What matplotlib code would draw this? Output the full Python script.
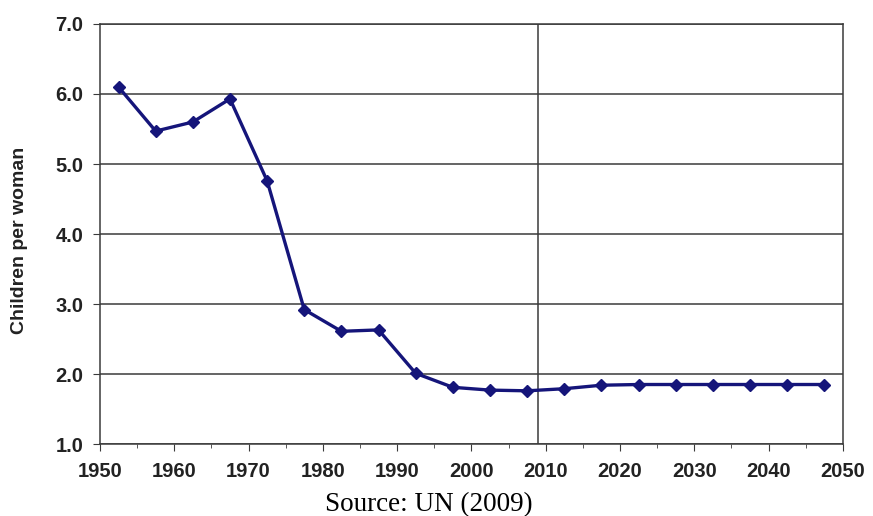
import matplotlib
matplotlib.use("Agg")
import matplotlib.pyplot as plt
from matplotlib.ticker import MultipleLocator

# data
years = [1952.5, 1957.5, 1962.5, 1967.5, 1972.5, 1977.5, 1982.5, 1987.5, 1992.5,
         1997.5, 2002.5, 2007.5, 2012.5, 2017.5, 2022.5, 2027.5, 2032.5, 2037.5,
         2042.5, 2047.5]
fertility = [6.10, 5.47, 5.60, 5.93, 4.76, 2.92, 2.61, 2.63, 2.01,
             1.81, 1.77, 1.76, 1.79, 1.84, 1.85, 1.85, 1.85, 1.85,
             1.85, 1.85]
x_ticks = [1950, 1960, 1970, 1980, 1990, 2000, 2010, 2020, 2030, 2040, 2050]
y_ticks = [1.0, 2.0, 3.0, 4.0, 5.0, 6.0, 7.0]
divider_year = 2009

line_col = '#15157a'
grid_col = '#3a3a3a'

fig = plt.figure(figsize=(8.73, 5.16), dpi=100)
ax = fig.add_axes([0.1145, 0.1395, 0.851, 0.814])

ax.plot(years, fertility, color=line_col, lw=2.4, marker='D', ms=6.5, zorder=3)
ax.axvline(divider_year, color=grid_col, lw=1.1, zorder=2)

ax.set_xlim(1950, 2050)
ax.set_ylim(1.0, 7.0)
ax.set_xticks(x_ticks)
ax.set_yticks(y_ticks)
ax.xaxis.set_minor_locator(MultipleLocator(5))
ax.set_yticklabels(['%.1f' % v for v in y_ticks])
ax.yaxis.grid(True, color=grid_col, lw=1.1)
ax.set_axisbelow(True)

for s in ax.spines.values():
    s.set_color(grid_col)
    s.set_linewidth(1.1)

ax.tick_params(axis='both', which='major', direction='out', length=5,
               color=grid_col, labelsize=14.5)
ax.tick_params(axis='y', pad=7)
ax.tick_params(axis='x', pad=8)
ax.tick_params(axis='x', which='minor', direction='out', length=3, color=grid_col)
for lab in ax.get_xticklabels() + ax.get_yticklabels():
    lab.set_fontfamily('Liberation Sans')
    lab.set_fontweight('bold')
    lab.set_color('#222222')

ax.set_ylabel('Children per woman', fontsize=14, fontweight='bold',
              family='Liberation Sans', color='#222222')
ax.yaxis.set_label_coords(-0.097, 0.486)

fig.text(0.491, 0.0097, 'Source: UN (2009)', ha='center', va='baseline',
         fontsize=19.5, family='Liberation Serif', color='black')

fig.savefig('out.png', dpi=100)
